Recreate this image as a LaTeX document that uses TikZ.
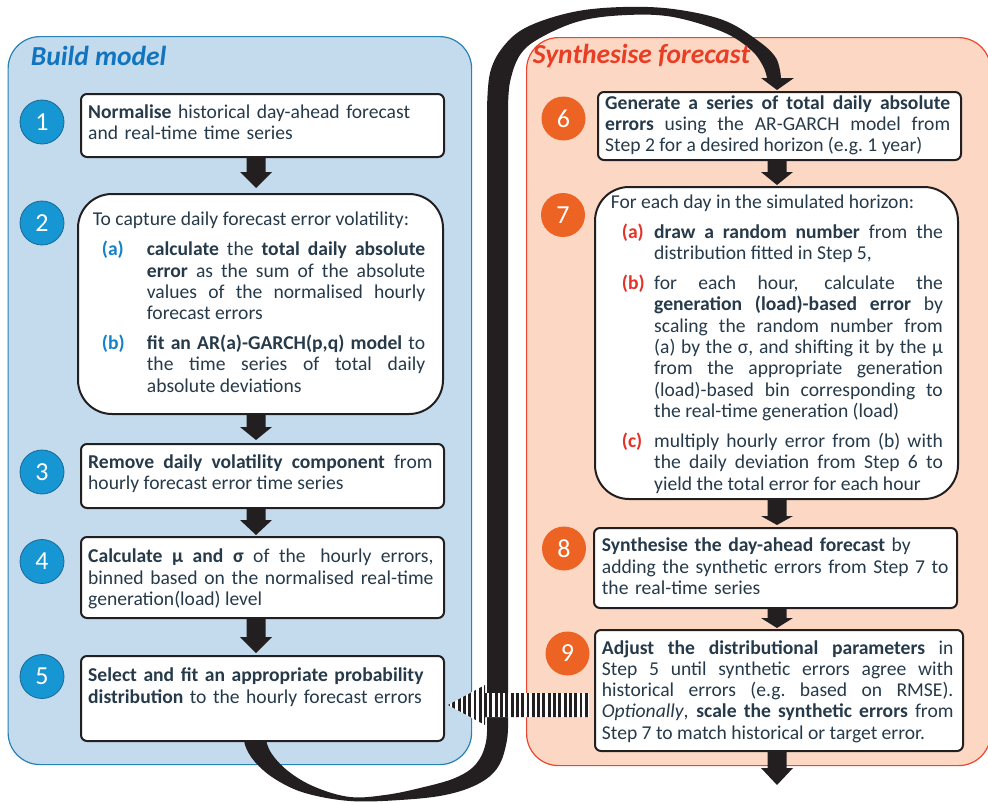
\documentclass[tikz,border=0pt]{standalone}
\usepackage{fontspec}
\setmainfont{Carlito}
\usetikzlibrary{calc}

\definecolor{panelblue}{RGB}{196,219,238}
\definecolor{panelblueline}{RGB}{40,130,180}
\definecolor{panelpeach}{RGB}{252,216,196}
\definecolor{panelpeachline}{RGB}{236,70,45}
\definecolor{titleblue}{RGB}{16,116,190}
\definecolor{titlered}{RGB}{232,62,38}
\definecolor{stepblue}{RGB}{22,150,210}
\definecolor{stepblueline}{RGB}{25,105,150}
\definecolor{steporange}{RGB}{236,99,36}
\definecolor{labelblue}{RGB}{20,130,200}
\definecolor{labelred}{RGB}{228,50,40}
\definecolor{bodytext}{RGB}{38,58,74}
\definecolor{inkblack}{RGB}{35,31,32}

\hyphenpenalty=10000
\exhyphenpenalty=10000
\tolerance=9999

% sub-item with a coloured label and a hanging indent
% #1 label indent, #2 text indent, #3 label colour, #4 label, #5 text
\newcommand\stepitem[5]{\par\vspace{8.7pt}\noindent\hangindent=#2\hangafter=1%
  \hspace*{#1}\makebox[\dimexpr#2-#1\relax][l]{\textcolor{#3}{\textbf{#4}}}#5\par}

% downward block arrow between two points; optional head length
\newcommand\blockarrow[3][15]{%
  \fill[inkblack] ($(#2)+(-9.5,0)$) -- ($(#3)+(-9.5,-#1)$) -- ($(#3)+(-16,-#1)$)
    -- (#3) -- ($(#3)+(16,-#1)$) -- ($(#3)+(9.5,-#1)$) -- ($(#2)+(9.5,0)$) -- cycle;}

\newcommand\bodyfont{\fontsize{19.6}{21.3}\selectfont}

\begin{document}
\begin{tikzpicture}[x=1pt,y=-1pt,
  panel/.style={rounded corners=32pt, line width=1.2pt, anchor=north west, inner sep=0pt},
  box/.style={draw=inkblack, fill=white, line width=2pt, rounded corners=6pt, anchor=north west, inner sep=0pt},
  bigbox/.style={box, rounded corners=34pt},
  num/.style={circle, minimum size=44pt, inner sep=0pt, text=white, font=\fontsize{26}{26}\selectfont},
  bluenum/.style={num, fill=stepblue, draw=stepblueline, line width=0.8pt},
  orangenum/.style={num, fill=steporange},
  body/.style={anchor=base west, inner sep=0pt, text=bodytext, font=\bodyfont},
  ragged/.style={body, align=left},
  just/.style={body, align=justify},
  paneltitle/.style={anchor=base west, inner sep=0pt, font=\fontsize{27.5}{30}\selectfont\bfseries\itshape}
]
\useasboundingbox (0,0) rectangle (988,803);

% the two stage panels
\node[panel, fill=panelblue, draw=panelblueline, minimum width=463.5pt, minimum height=728pt] (buildpanel) at (7.5,36) {};
\node[panel, fill=panelpeach, draw=panelpeachline, minimum width=464pt, minimum height=728pt] (synthpanel) at (526,37) {};

% loop arrow from step 5 back up to step 6
\fill[inkblack]
  plot[smooth, tension=0.6] coordinates {(781,78) (776,58) (757,40) (723,20) (673,9) (623,7) (573,12) (527,27) (503,47) (490,73) (487,110)}
  -- (487,712)
  -- plot[smooth, tension=0.6] coordinates {(487,712) (486,742) (476,764) (455,778) (420,788) (385,795) (350,797) (315,787) (288,771) (270,751) (264,730)}
  -- (244,730)
  -- plot[smooth, tension=0.6] coordinates {(244,730) (245,745) (255,762) (275,779) (305,793) (350,801) (400,800) (445,795) (478,784) (498,767) (507,740) (508,712)}
  -- (508,110)
  -- plot[smooth, tension=0.6] coordinates {(508,110) (510,82) (520,55) (540,38) (580,21) (627,15) (673,17) (723,32) (751,50) (763,66) (767,78)}
  -- (761,78) -- (777,90) -- (794,78) -- cycle;

% panel titles
\node[paneltitle, text=titleblue] (buildtitle) at (30.7,65.7) {Build model};
\node[paneltitle, text=titlered] (synthtitle) at (532.7,63.5) {Synthesise forecast};

% step boxes
\node[box, minimum width=363pt, minimum height=63pt] (b1) at (80,93) {};
\node[bigbox, minimum width=365pt, minimum height=220pt] (b2) at (77,193) {};
\node[box, minimum width=363pt, minimum height=64pt] (b3) at (80,443) {};
\node[box, minimum width=363pt, minimum height=81pt] (b4) at (80,536) {};
\node[box, minimum width=363pt, minimum height=85pt] (b5) at (80,655) {};
\node[box, minimum width=363pt, minimum height=68pt] (b6) at (597,91) {};
\node[bigbox, minimum width=363pt, minimum height=312pt] (b7) at (594,186) {};
\node[box, minimum width=363pt, minimum height=80pt] (b8) at (593,527) {};
\node[box, minimum width=368pt, minimum height=121pt] (b9) at (594,629) {};

% arrow axes and the free end below step 9
\coordinate (lax) at (256,0);
\coordinate (rax) at (777,0);
\coordinate (outend) at (777,785);

% block arrows between steps
\blockarrow[16]{b1.south -| lax}{$(b2.north -| lax)+(0,-5)$}
\blockarrow[13]{b2.south -| lax}{$(b3.north -| lax)+(0,-3)$}
\blockarrow[15]{b3.south -| lax}{$(b4.north -| lax)+(0,-1)$}
\blockarrow[16]{b4.south -| lax}{$(b5.north -| lax)+(0,-2)$}
\blockarrow[13]{b6.south -| rax}{$(b7.north -| rax)+(0,-1)$}
\blockarrow[9]{b7.south -| rax}{$(b8.north -| rax)+(0,-2)$}
\blockarrow[10]{b8.south -| rax}{$(b9.north -| rax)+(0,-1)$}
\blockarrow[17]{b9.south -| rax}{outend}

% step numbers
\node[bluenum] (c1) at (42,122) {1};
\node[bluenum] (c2) at (42,223) {2};
\node[bluenum] (c3) at (42,472) {3};
\node[bluenum] (c4) at (42,561.5) {4};
\node[bluenum] (c5) at (42,676.5) {5};
\node[orangenum] (c6) at (563.5,118.5) {6};
\node[orangenum] (c7) at (563,215) {7};
\node[orangenum] (c8) at (564,548.5) {8};
\node[orangenum] (c9) at (567.5,653.5) {9};

% step texts
\node[ragged, text width=350pt] (t1) at (88,118)
  {\textbf{Normalise} historical day-ahead forecast\\and real-time time series};
\node[just, text width=332.3pt] (t2) at (92.7,225.7)
  {To capture daily forecast error volatility:
   \stepitem{9pt}{54pt}{labelblue}{(a)}{\textbf{calculate} the \textbf{total daily absolute}\linebreak
     \textbf{error} as the sum of the absolute\linebreak values of the normalised hourly\linebreak forecast errors}
   \stepitem{9pt}{54pt}{labelblue}{(b)}{\textbf{fit an AR(a)-GARCH(p,q) model} to\linebreak
     the time series of total daily\linebreak absolute deviations}};
\node[just, text width=344.3pt] (t3) at (88,468.3)
  {\textbf{Remove daily volatility component} from\linebreak hourly forecast error time series};
\node[just, text width=345.3pt] (t4) at (88,562.7)
  {\textbf{Calculate µ and σ} of the\hspace{5pt} hourly errors,\linebreak
   binned based on the normalised real-time\linebreak generation(load) level};
\node[ragged, text width=350pt] (t5) at (88,681.7)
  {\textbf{Select and fit an appropriate probability}\\\textbf{distribution} to the hourly forecast errors};
\node[just, text width=345pt] (t6) at (605,109.3)
  {\textbf{Generate a series of total daily absolute}\linebreak
   \textbf{errors} using the AR-GARCH model from\linebreak Step 2 for a desired horizon (e.g.\ 1 year)};
\node[just, text width=332pt] (t7) at (610.7,208.3)
  {For each day in the simulated horizon:
   \stepitem{11pt}{43.3pt}{labelred}{(a)}{\textbf{draw a random number} from the\linebreak
     distribution fitted in Step 5,}
   \stepitem{11pt}{43.3pt}{labelred}{(b)}{for each hour, calculate the\linebreak
     \textbf{generation (load)-based error} by\linebreak scaling the random number from\linebreak
     (a) by the σ, and shifting it by the µ\linebreak from the appropriate generation\linebreak
     (load)-based bin corresponding to\linebreak the real-time generation (load)}
   \stepitem{11pt}{43.3pt}{labelred}{(c)}{multiply hourly error from (b) with\linebreak
     the daily deviation from Step 6 to\linebreak yield the total error for each hour}};
\node[ragged, text width=350pt] (t8) at (601.7,551.7)
  {\textbf{Synthesise the day-ahead forecast} by\\adding the synthetic errors from Step 7 to\\the real-time series};
\node[just, text width=351.6pt] (t9) at (601.7,654)
  {\textbf{Adjust the distributional parameters} in\linebreak
   Step 5 until synthetic errors agree with\linebreak historical errors (e.g.\ based on RMSE).\linebreak
   \textit{Optionally}, \textbf{scale the synthetic errors} from\linebreak
   Step 7 to match historical or target error.};

% striped feedback arrow from step 9 to step 5
\coordinate (stip) at ($(b5.east)+(3,6.5)$);
\coordinate (send) at ($(b9.west)+(-5,14.5)$);
\begin{scope}
  \clip (stip) -- ($(stip)+(37,-20)$) -- ($(stip)+(37,-12)$) -- ($(send)+(0,-12)$)
    -- ($(send)+(0,12)$) -- ($(stip)+(37,12)$) -- ($(stip)+(37,20)$) -- cycle;
  \fill[white] ($(stip)+(-2,-25)$) rectangle ($(send)+(2,25)$);
  \foreach \k in {0,...,28}
    \fill[inkblack] ($(stip)+(\k*5.3-1,-25)$) rectangle ++(2.9,50);
\end{scope}
\end{tikzpicture}
\end{document}
